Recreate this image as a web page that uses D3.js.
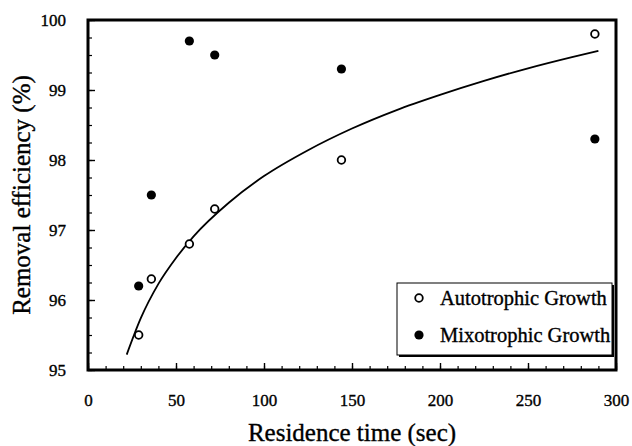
<!DOCTYPE html>
<html>
<head>
<meta charset="utf-8">
<script src="https://cdn.jsdelivr.net/npm/d3@7"></script>
<style>
  html, body { margin: 0; padding: 0; background: #fff; }
  svg { display: block; font-family: "Liberation Serif", "Times New Roman", serif; }
  svg text { stroke: #000; stroke-width: 0.35px; }
</style>
</head>
<body>
<svg id="chart" width="632" height="446"></svg>
<script>
// ---- Data ----
const autoX = [28.8, 36, 57.6, 72, 144, 288];
const autoY = [95.5, 96.3, 96.8, 97.3, 98.0, 99.8];
const mixoX = [28.8, 36, 57.6, 72, 144, 288];
const mixoY = [96.2, 97.5, 99.7, 99.5, 99.3, 98.3];
// fitted trend curve
const fitX = [22, 30, 40, 50, 60, 80, 100, 125, 150, 175, 200, 225, 250, 275, 290];
const fitY = [95.22, 95.74, 96.23, 96.60, 96.91, 97.39, 97.77, 98.14, 98.45, 98.71, 98.93, 99.13, 99.31, 99.47, 99.56];
const xTicks = [0, 50, 100, 150, 200, 250, 300];
const yTicks = [95, 96, 97, 98, 99, 100];
const legendLabels = ["Autotrophic Growth", "Mixotrophic Growth"];

// ---- Layout ----
const svg = d3.select("#chart");
const L = 88, R = 616, T = 20, B = 370;
const x = d3.scaleLinear().domain([0, 300]).range([L, R]);
const y = d3.scaleLinear().domain([95, 100]).range([B, T]);

// minor ticks
const xMinor = d3.range(0, 301, 10);
const yMinor = d3.range(95, 100.001, 0.25);

const gx = svg.append("g").attr("transform", `translate(0,${B})`)
  .call(d3.axisBottom(x).tickValues(xMinor).tickSize(-4).tickFormat(""));
gx.select(".domain").remove();
gx.selectAll("line").attr("stroke", "#000").attr("stroke-width", 1.2);

const gx2 = svg.append("g").attr("transform", `translate(0,${B})`)
  .call(d3.axisBottom(x).tickValues(xTicks).tickSize(-7).tickPadding(24).tickFormat(d3.format("d")));
gx2.select(".domain").remove();
gx2.selectAll("line").attr("stroke", "#000").attr("stroke-width", 1.4);
gx2.selectAll("text").attr("font-size", 17).attr("fill", "#000")
  .attr("font-family", "Liberation Serif, serif");

const gy = svg.append("g").attr("transform", `translate(${L},0)`)
  .call(d3.axisLeft(y).tickValues(yMinor).tickSize(-4).tickFormat(""));
gy.select(".domain").remove();
gy.selectAll("line").attr("stroke", "#000").attr("stroke-width", 1.2);

const gy2 = svg.append("g").attr("transform", `translate(${L},0)`)
  .call(d3.axisLeft(y).tickValues(yTicks).tickSize(-7).tickPadding(22).tickFormat(d3.format("d")));
gy2.select(".domain").remove();
gy2.selectAll("line").attr("stroke", "#000").attr("stroke-width", 1.4);
gy2.selectAll("text").attr("font-size", 17).attr("fill", "#000")
  .attr("font-family", "Liberation Serif, serif");

// frame
svg.append("rect")
  .attr("x", x(0)).attr("y", y(100))
  .attr("width", x(300) - x(0)).attr("height", y(95) - y(100))
  .attr("fill", "none").attr("stroke", "#000").attr("stroke-width", 3);

// fit curve
const line = d3.line().x((d, i) => x(fitX[i])).y((d, i) => y(fitY[i])).curve(d3.curveMonotoneX);
svg.append("path").datum(fitX).attr("d", line)
  .attr("fill", "none").attr("stroke", "#000").attr("stroke-width", 1.8);

// points
svg.append("g").selectAll("circle").data(autoX).join("circle")
  .attr("cx", (d) => x(d)).attr("cy", (d, i) => y(autoY[i])).attr("r", 3.8)
  .attr("fill", "#fff").attr("stroke", "#000").attr("stroke-width", 1.8);
svg.append("g").selectAll("circle").data(mixoX).join("circle")
  .attr("cx", (d) => x(d)).attr("cy", (d, i) => y(mixoY[i])).attr("r", 4.6)
  .attr("fill", "#000");

// axis titles
svg.append("text").attr("x", (L + R) / 2).attr("y", 441)
  .attr("text-anchor", "middle").attr("font-size", 25).attr("fill", "#000")
  .text("Residence time (sec)");
svg.append("text").attr("transform", `translate(30,${(T + B) / 2}) rotate(-90)`)
  .attr("text-anchor", "middle").attr("font-size", 25).attr("fill", "#000")
  .text("Removal efficiency (%)");

// legend
const lg = svg.append("g");
lg.append("rect").attr("x", 399).attr("y", 285).attr("width", 215).attr("height", 72)
  .attr("fill", "#000");
lg.append("rect").attr("x", 397).attr("y", 283).attr("width", 215).attr("height", 72)
  .attr("fill", "#fff").attr("stroke", "#000").attr("stroke-width", 1);
lg.append("circle").attr("cx", 419).attr("cy", 298).attr("r", 3.8)
  .attr("fill", "#fff").attr("stroke", "#000").attr("stroke-width", 1.8);
lg.append("circle").attr("cx", 419).attr("cy", 335).attr("r", 4.6).attr("fill", "#000");
lg.append("text").attr("x", 440).attr("y", 305).attr("font-size", 20.5).attr("fill", "#000")
  .text(legendLabels[0]);
lg.append("text").attr("x", 440).attr("y", 342).attr("font-size", 20.5).attr("fill", "#000")
  .text(legendLabels[1]);
</script>
</body>
</html>
